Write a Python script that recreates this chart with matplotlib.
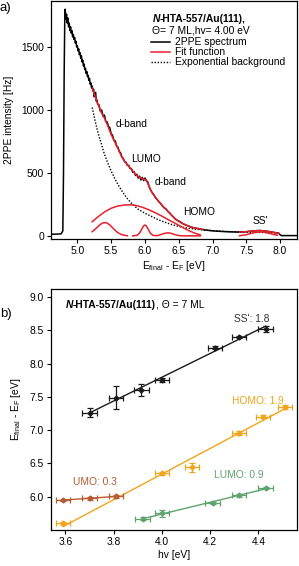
import numpy as np
import matplotlib
matplotlib.use("Agg")
import matplotlib.pyplot as plt
from matplotlib.lines import Line2D

plt.rcParams['font.family'] = ['Liberation Sans', 'DejaVu Sans']
plt.rcParams['mathtext.fontset'] = 'custom'
plt.rcParams['mathtext.rm'] = 'Liberation Sans'
plt.rcParams['mathtext.it'] = 'Liberation Sans:italic'
plt.rcParams['mathtext.bf'] = 'Liberation Sans:bold'
FS = 7.4

# ---------------- Panel a data ----------------
spec_x = [4.62, 4.70, 4.76, 4.785, 4.795, 4.805, 4.815,
          4.82, 4.83, 4.84, 4.85, 4.86, 4.87, 4.88, 4.89, 4.90, 4.91, 4.92, 4.93, 4.94, 4.95,
          4.96, 4.97, 4.98, 4.99, 5.00, 5.01, 5.02, 5.03, 5.04, 5.05, 5.06, 5.07, 5.08, 5.09,
          5.10, 5.11, 5.12, 5.13, 5.14, 5.15, 5.16, 5.17, 5.18, 5.19, 5.20, 5.21, 5.22, 5.23,
          5.24, 5.25, 5.26, 5.27, 5.28, 5.29, 5.30, 5.32, 5.34, 5.36, 5.38, 5.40, 5.42, 5.44,
          5.46, 5.48, 5.50, 5.52, 5.54, 5.56, 5.58, 5.60, 5.62, 5.64, 5.66, 5.68, 5.70, 5.72,
          5.74, 5.76, 5.78, 5.80, 5.82, 5.84, 5.86, 5.88, 5.90, 5.92, 5.94, 5.96, 5.98, 6.00,
          6.02, 6.04, 6.06, 6.08, 6.10, 6.12, 6.14, 6.16, 6.18, 6.20, 6.22, 6.25, 6.28, 6.31,
          6.34, 6.37, 6.40, 6.43, 6.46, 6.50, 6.53, 6.56, 6.60, 6.65, 6.70, 6.75, 6.80, 6.85,
          6.90, 6.95, 7.00, 7.10, 7.20, 7.30, 7.40, 7.50, 7.60, 7.65, 7.70, 7.75, 7.80, 7.85,
          7.90, 7.95, 7.98, 8.00, 8.02, 8.25]
spec_y = [14, 15, 17, 40, 500, 1300, 1780,
          1800, 1720, 1760, 1690, 1730, 1660, 1690, 1630, 1660, 1610, 1630, 1580, 1600, 1560,
          1575, 1530, 1545, 1500, 1510, 1470, 1485, 1440, 1455, 1410, 1430, 1380, 1395, 1350,
          1365, 1320, 1330, 1290, 1305, 1265, 1275, 1235, 1250, 1205, 1215, 1175, 1190, 1150,
          1165, 1105, 1130, 1140, 1070, 1080, 1045, 1040, 990, 1000, 950, 960, 910, 905,
          870, 860, 810, 800, 760, 755, 715, 705, 670, 660, 625, 615, 590, 585,
          560, 560, 535, 535, 505, 510, 480, 490, 460, 475, 445, 465, 440, 460,
          440, 430, 395, 370, 350, 335, 320, 300, 290, 275, 265, 245, 225, 215,
          195, 180, 162, 145, 130, 118, 110, 98, 88, 78, 68, 62, 58, 52,
          47, 44, 41, 37, 34, 32, 31, 34, 40, 42, 43, 41, 38, 34,
          29, 24, 20, 10, 3, 3]

fit_x = [5.22, 5.26, 5.30, 5.35, 5.40, 5.45, 5.50, 5.55, 5.60, 5.65, 5.70, 5.75, 5.80, 5.85,
         5.90, 5.95, 5.98, 6.00, 6.02, 6.04, 6.06, 6.08, 6.10, 6.14, 6.18, 6.22, 6.26, 6.30,
         6.35, 6.40, 6.45, 6.50, 6.55, 6.60, 6.65, 6.70, 6.75, 6.80, 6.85]
fit_y = [1175, 1115, 1055, 985, 935, 875, 805, 750, 695, 635, 590, 560, 530, 495,
         470, 458, 452, 448, 440, 420, 395, 368, 348, 318, 290, 265, 240, 218,
         190, 162, 135, 115, 100, 88, 77, 68, 62, 57, 52]
fit_ss_x = [7.40, 7.50, 7.60, 7.70, 7.80, 7.90, 7.98]
fit_ss_y = [31, 34, 40, 44, 38, 29, 22]

bg_x = [5.22, 5.26, 5.30, 5.35, 5.40, 5.45, 5.50, 5.55, 5.60, 5.65, 5.70, 5.75, 5.80, 5.85,
        5.90, 6.00, 6.10, 6.20, 6.30, 6.40, 6.50, 6.60, 6.70, 6.80, 6.90, 7.00, 7.20, 7.40,
        7.60, 7.80, 7.98]
bg_y = [1020, 920, 830, 740, 650, 580, 515, 460, 410, 365, 325, 290, 260, 235,
        212, 180, 155, 128, 108, 90, 76, 65, 57, 51, 46, 42, 36, 32,
        29, 27, 25]

broad_x = [5.22, 5.30, 5.40, 5.50, 5.60, 5.70, 5.77, 5.85, 5.95, 6.05, 6.15, 6.25, 6.35,
           6.45, 6.55, 6.65, 6.75, 6.82]
broad_y = [113, 150, 190, 220, 238, 246, 248, 244, 230, 210, 185, 158, 128,
           100, 70, 42, 20, 8]
p1_x = [5.22, 5.26, 5.30, 5.34, 5.38, 5.41, 5.44, 5.48, 5.52, 5.56, 5.60, 5.65, 5.70, 5.74]
p1_y = [34, 52, 72, 92, 104, 106, 102, 88, 66, 44, 26, 12, 5, 2]
p2_x = [5.82, 5.88, 5.92, 5.95, 5.98, 6.00, 6.02, 6.05, 6.08, 6.12, 6.16, 6.20, 6.25, 6.30,
        6.34, 6.38, 6.43, 6.48, 6.55, 6.82]
p2_y = [1, 5, 22, 52, 80, 87, 80, 52, 22, 5, 2, 5, 14, 22, 25, 22, 13, 5, 1, 1]
pss_x = [7.40, 7.50, 7.60, 7.70, 7.75, 7.82, 7.90, 7.96]
pss_y = [2, 10, 25, 32, 31, 24, 12, 6]

# ---------------- Panel b data ----------------
ss_hv = [3.70, 3.81, 3.915, 4.00, 4.22, 4.32, 4.43]
ss_E = [7.26, 7.49, 7.61, 7.75, 8.24, 8.40, 8.52]
ss_yerr = [0.07, 0.17, 0.09, 0.03, 0.02, 0.02, 0.04]
homo_hv = [3.59, 4.00, 4.125, 4.32, 4.42, 4.51]
homo_E = [5.60, 6.35, 6.44, 6.96, 7.20, 7.35]
homo_yerr = [0.02, 0.02, 0.07, 0.03, 0.02, 0.03]
umo_hv = [3.59, 3.70, 3.81]
umo_E = [5.95, 5.975, 6.005]
umo_yerr = [0.02, 0.02, 0.02]
lumo_hv = [3.92, 4.00, 4.21, 4.32, 4.43]
lumo_E = [5.67, 5.75, 5.905, 6.02, 6.13]
lumo_yerr = [0.02, 0.05, 0.02, 0.02, 0.02]
hv_err = 0.03

C_SS = '#1a1a1a'
C_HOMO = '#F0A418'
C_UMO = '#B85A32'
C_LUMO = '#5FA46E'
RED = '#E8202A'

W, H = 299, 566
fig = plt.figure(figsize=(W / 100, H / 100), dpi=100)

def box(l, t, r, b):
    return [l / W, 1 - b / H, (r - l) / W, (b - t) / H]

# ---------------- Panel a ----------------
ax = fig.add_axes(box(51, 1, 297, 239))
ax.plot(spec_x, spec_y, color='black', lw=1.1)
ax.plot(bg_x, bg_y, color='black', lw=1.0, ls=(0, (1, 1.2)))
ax.plot(fit_x, fit_y, color=RED, lw=1.1)
ax.plot(fit_ss_x, fit_ss_y, color=RED, lw=1.1)
for xs, ys in [(broad_x, broad_y), (p1_x, p1_y), (p2_x, p2_y), (pss_x, pss_y)]:
    ax.plot(xs, ys, color=RED, lw=1.1)
ax.set_xlim(4.61, 8.25)
ax.set_ylim(-24, 1865)
ax.set_xticks([5.0, 5.5, 6.0, 6.5, 7.0, 7.5, 8.0])
ax.set_yticks([0, 500, 1000, 1500])
ax.tick_params(direction='out', length=3, width=0.8, labelsize=FS, pad=2)
for s in ax.spines.values():
    s.set_linewidth(0.9)
ax.set_xlabel(r'E$_{\mathregular{final}}$ - E$_{\mathregular{F}}$ [eV]', fontsize=FS, labelpad=2)
ax.set_ylabel('2PPE intensity [Hz]', fontsize=FS, labelpad=5)

ax.text(5.56, 889, 'd-band', fontsize=FS, va='center')
ax.text(5.79, 611, 'LUMO', fontsize=FS, va='center')
ax.text(6.14, 429, 'd-band', fontsize=FS, va='center')
ax.text(6.57, 190, 'HOMO', fontsize=FS, va='center')
ax.text(7.60, 119, "SS'", fontsize=FS, va='center')

t1 = ax.text(0.412, 0.924, 'N', transform=ax.transAxes, fontsize=FS,
             fontweight='bold', style='italic', va='center')
ax.annotate('-HTA-557/Au(111),', xy=(1, 0.5), xycoords=t1, fontsize=FS,
            fontweight='bold', va='center', ha='left')
ax.text(0.412, 0.874, 'Θ= 7 ML,hv= 4.00 eV', transform=ax.transAxes, fontsize=FS, va='center')
handles = [Line2D([], [], color='black', lw=1.1),
           Line2D([], [], color=RED, lw=1.1),
           Line2D([], [], color='black', lw=1.0, ls=(0, (1, 1.2)))]
ax.legend(handles, ['2PPE spectrum', 'Fit function', 'Exponential background'],
          loc='upper left', bbox_to_anchor=(0.405, 0.848), frameon=False, fontsize=FS,
          handlelength=1.9, handletextpad=0.5, labelspacing=0.0, borderpad=0,
          borderaxespad=0)

fig.text(0.0, 1 - 2 / H, 'a)', fontsize=9.5, va='top', ha='left')

# ---------------- Panel b ----------------
bx = fig.add_axes(box(51, 289, 297, 530))
series = [(ss_hv, ss_E, ss_yerr, C_SS), (homo_hv, homo_E, homo_yerr, C_HOMO),
          (umo_hv, umo_E, umo_yerr, C_UMO), (lumo_hv, lumo_E, lumo_yerr, C_LUMO)]
for hv, E, ye, c in series:
    hv = np.asarray(hv)
    E = np.asarray(E)
    k, b0 = np.polyfit(hv, E, 1)
    xl = np.array([hv.min(), hv.max()])
    bx.plot(xl, k * xl + b0, color=c, lw=1.0, zorder=2)
    bx.errorbar(hv, E, xerr=hv_err, yerr=ye, fmt='D', ms=2.5, color=c,
                ecolor=c, elinewidth=0.9, capsize=2, capthick=0.9, zorder=3)
bx.set_xlim(3.54, 4.56)
bx.set_ylim(5.5, 9.12)
bx.set_xticks([3.6, 3.8, 4.0, 4.2, 4.4])
bx.set_yticks([6.0, 6.5, 7.0, 7.5, 8.0, 8.5, 9.0])
bx.tick_params(direction='out', length=3, width=0.8, labelsize=FS, pad=2)
for s in bx.spines.values():
    s.set_linewidth(0.9)
bx.set_xlabel('hv [eV]', fontsize=FS, labelpad=2)
bx.set_ylabel(r'E$_{\mathregular{final}}$ - E$_{\mathregular{F}}$ [eV]', fontsize=FS, labelpad=5)

t2 = bx.text(3.60, 8.88, 'N', fontsize=FS, fontweight='bold', style='italic', va='center')
t3 = bx.annotate('-HTA-557/Au(111)', xy=(1, 0.5), xycoords=t2, fontsize=FS,
                 fontweight='bold', va='center', ha='left')
bx.annotate(', Θ = 7 ML', xy=(1, 0.5), xycoords=t3, fontsize=FS, va='center', ha='left')
bx.text(4.30, 8.67, "SS': 1.8", fontsize=FS, va='center', color='#333333')
bx.text(4.29, 7.44, 'HOMO: 1.9', fontsize=FS, va='center', color=C_HOMO)
bx.text(3.63, 6.22, 'UMO: 0.3', fontsize=FS, va='center', color=C_UMO)
bx.text(4.215, 6.33, 'LUMO: 0.9', fontsize=FS, va='center', color=C_LUMO)

fig.text(0.0, 1 - 308 / H, 'b)', fontsize=9.5, va='top', ha='left')

fig.savefig('out.png', dpi=100)
